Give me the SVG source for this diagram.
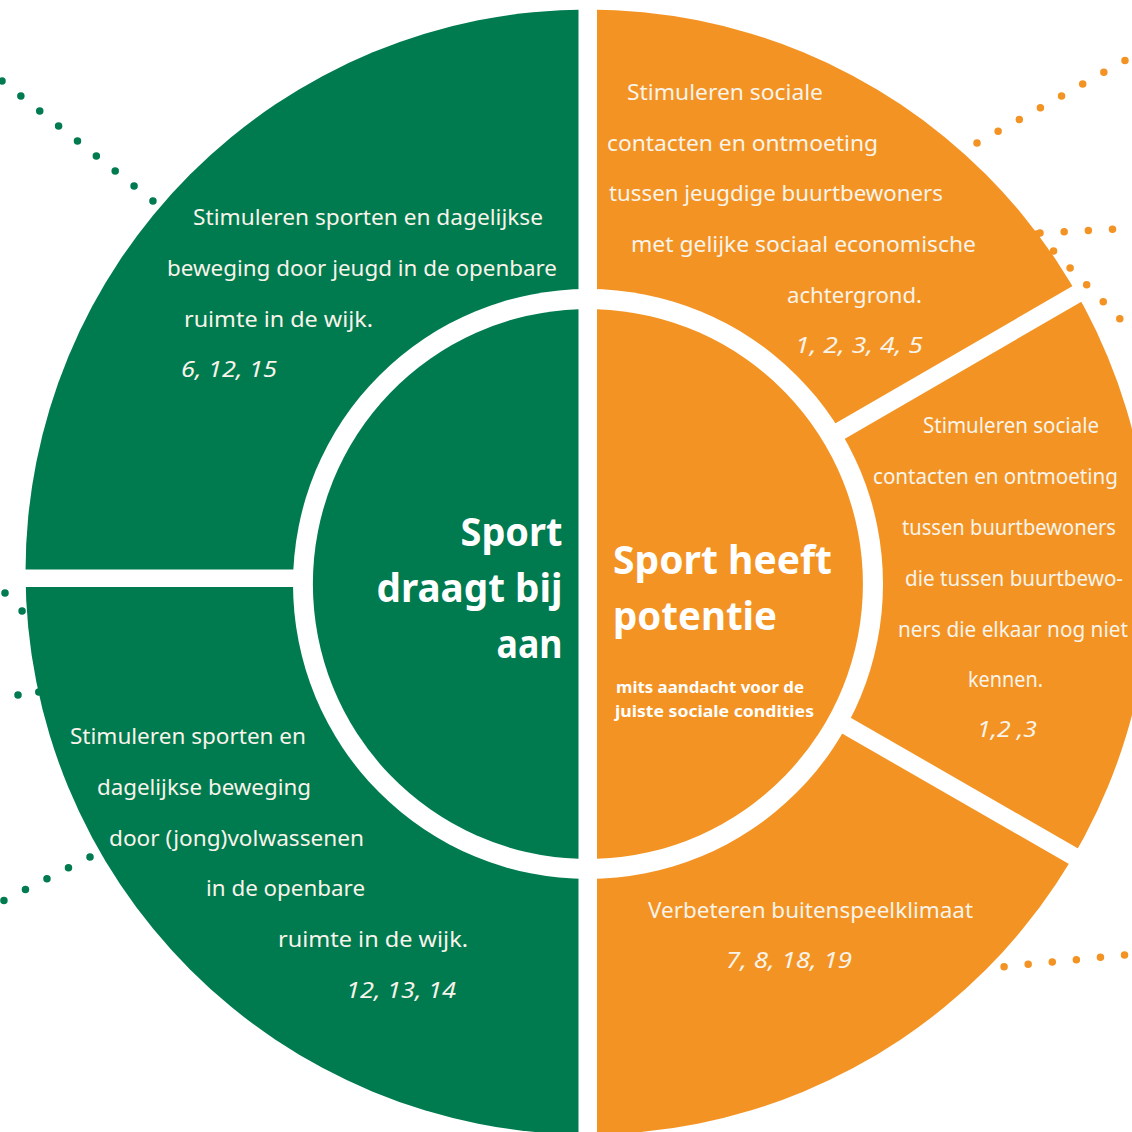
<svg xmlns="http://www.w3.org/2000/svg" width="1132" height="1132" viewBox="0 0 1132 1132">
<defs>
<style>
.t{font-family:"Noto Sans","Open Sans","Liberation Sans",sans-serif;font-size:22px;fill:#F8F4EA}
.i{font-style:italic}
.h{font-weight:bold;font-size:40px;fill:#FFFFFF}
.s{font-weight:bold;font-size:16.5px;fill:#FFFFFF}
.g{fill:#007A4F}
.o{fill:#F39323}
.dot{fill:none;stroke-linecap:round;stroke-width:7.5}
.dg{stroke:#007A4F;stroke-dasharray:0 24.1}
.do{stroke:#F39323;stroke-dasharray:0 24.2}
</style>
<mask id="ring" maskUnits="userSpaceOnUse" x="0" y="0" width="1132" height="1132">
<rect x="0" y="0" width="1132" height="1132" fill="#000"/>
<circle cx="588" cy="572" r="562.5" fill="#fff"/>
<circle cx="588" cy="584" r="295" fill="#000"/>
<rect x="578.5" y="0" width="18.5" height="1132" fill="#000"/>
<rect x="0" y="569.5" width="300" height="17.5" fill="#000"/>
<line x1="588" y1="577" x2="1200" y2="222.7" stroke="#000" stroke-width="18"/>
<line x1="588" y1="577" x2="1200" y2="929" stroke="#000" stroke-width="18"/>
</mask>
</defs>
<rect x="0" y="0" width="1132" height="1132" fill="#FFFFFF"/>

<g id="connectors">
<path class="dot dg" d="M2,81 L153,201"/>
<path class="dot dg" style="stroke-dasharray:0 24.8" d="M5,593 L80,672"/>
<path class="dot dg" style="stroke-dasharray:0 21" d="M18,695 L102,683"/>
<path class="dot dg" d="M90,857 L3.6,900.6"/>
<path class="dot do" d="M977,143 L1147.3,48.1"/>
<path class="dot do" d="M1040,233 L1136,228"/>
<path class="dot do" style="stroke-dasharray:0 23.7" d="M1037,234 L1120,319"/>
<path class="dot do" d="M980,969 L1148,952.7"/>
</g>

<g id="seg-green-top">
<rect class="g" x="0" y="0" width="588" height="578" mask="url(#ring)"/>
<text class="t" x="193" y="225" textLength="350" lengthAdjust="spacingAndGlyphs">Stimuleren sporten en dagelijkse</text>
<text class="t" x="167" y="276" textLength="390" lengthAdjust="spacingAndGlyphs">beweging door jeugd in de openbare</text>
<text class="t" x="184" y="327" textLength="189" lengthAdjust="spacingAndGlyphs">ruimte in de wijk.</text>
<text class="t i" x="181" y="377" textLength="96" lengthAdjust="spacingAndGlyphs">6, 12, 15</text>
</g>

<g id="seg-green-bottom">
<rect class="g" x="0" y="578" width="588" height="554" mask="url(#ring)"/>
<text class="t" x="70" y="744" textLength="236" lengthAdjust="spacingAndGlyphs">Stimuleren sporten en</text>
<text class="t" x="97" y="795" textLength="214" lengthAdjust="spacingAndGlyphs">dagelijkse beweging</text>
<text class="t" x="109" y="846" textLength="255" lengthAdjust="spacingAndGlyphs">door (jong)volwassenen</text>
<text class="t" x="206" y="896" textLength="159" lengthAdjust="spacingAndGlyphs">in de openbare</text>
<text class="t" x="278" y="947" textLength="190" lengthAdjust="spacingAndGlyphs">ruimte in de wijk.</text>
<text class="t i" x="346" y="998" textLength="110" lengthAdjust="spacingAndGlyphs">12, 13, 14</text>
</g>

<g id="seg-orange-top">
<polygon class="o" points="588,0 1132,0 1132,262 588,577" mask="url(#ring)"/>
<text class="t" x="627" y="100" textLength="196" lengthAdjust="spacingAndGlyphs">Stimuleren sociale</text>
<text class="t" x="607" y="151" textLength="271" lengthAdjust="spacingAndGlyphs">contacten en ontmoeting</text>
<text class="t" x="609" y="201" textLength="334" lengthAdjust="spacingAndGlyphs">tussen jeugdige buurtbewoners</text>
<text class="t" x="631" y="252" textLength="345" lengthAdjust="spacingAndGlyphs">met gelijke sociaal economische</text>
<text class="t" x="787" y="303" textLength="135" lengthAdjust="spacingAndGlyphs">achtergrond.</text>
<text class="t i" x="795" y="353" textLength="128" lengthAdjust="spacingAndGlyphs">1, 2, 3, 4, 5</text>
</g>

<g id="seg-orange-right">
<polygon class="o" points="588,577 1132,262 1132,890" mask="url(#ring)"/>
<text class="t" x="923" y="433" textLength="176" lengthAdjust="spacingAndGlyphs">Stimuleren sociale</text>
<text class="t" x="873" y="484" textLength="245" lengthAdjust="spacingAndGlyphs">contacten en ontmoeting</text>
<text class="t" x="902" y="535" textLength="214" lengthAdjust="spacingAndGlyphs">tussen buurtbewoners</text>
<text class="t" x="905" y="586" textLength="218" lengthAdjust="spacingAndGlyphs">die tussen buurtbewo-</text>
<text class="t" x="898" y="637" textLength="230" lengthAdjust="spacingAndGlyphs">ners die elkaar nog niet</text>
<text class="t" x="968" y="687" textLength="75" lengthAdjust="spacingAndGlyphs">kennen.</text>
<text class="t i" x="977" y="737" textLength="60" lengthAdjust="spacingAndGlyphs">1,2 ,3</text>
</g>

<g id="seg-orange-bottom">
<polygon class="o" points="588,577 1132,890 1132,1132 588,1132" mask="url(#ring)"/>
<text class="t" x="648" y="918" textLength="325" lengthAdjust="spacingAndGlyphs">Verbeteren buitenspeelklimaat</text>
<text class="t i" x="726" y="968" textLength="126" lengthAdjust="spacingAndGlyphs">7, 8, 18, 19</text>
</g>

<g id="core-green">
<path class="g" d="M578.5,309.16 A275,275 0 0 0 578.5,858.84 Z"/>
<text class="t h" x="562.5" y="546" text-anchor="end" textLength="102" lengthAdjust="spacingAndGlyphs">Sport</text>
<text class="t h" x="562.5" y="601.5" text-anchor="end" textLength="186" lengthAdjust="spacingAndGlyphs">draagt bij</text>
<text class="t h" x="562.5" y="658" text-anchor="end" textLength="66" lengthAdjust="spacingAndGlyphs">aan</text>
</g>

<g id="core-orange">
<path class="o" d="M597,309.15 A275,275 0 0 1 597,858.85 Z"/>
<text class="t h" x="613" y="574" textLength="219" lengthAdjust="spacingAndGlyphs">Sport heeft</text>
<text class="t h" x="613" y="630" textLength="164" lengthAdjust="spacingAndGlyphs">potentie</text>
<text class="t s" x="616" y="693" textLength="188" lengthAdjust="spacingAndGlyphs">mits aandacht voor de</text>
<text class="t s" x="615" y="717" textLength="199" lengthAdjust="spacingAndGlyphs">juiste sociale condities</text>
</g>
</svg>
